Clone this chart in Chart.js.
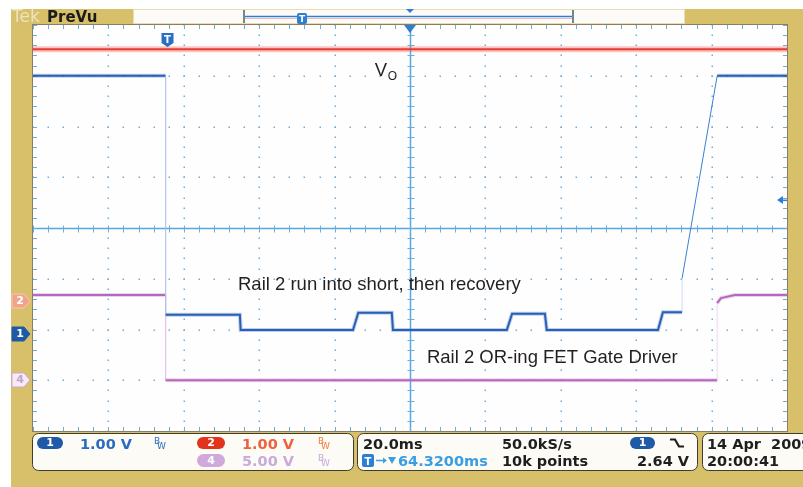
<!DOCTYPE html>
<html>
<head>
<meta charset="utf-8">
<script src="https://cdn.jsdelivr.net/npm/chart.js@4.4.1/dist/chart.umd.min.js"></script>
<style>
  html, body { margin: 0; padding: 0; background: #fff; }
  canvas { display: block; }
</style>
</head>
<body>
<canvas id="scope" width="803" height="487"></canvas>
<script>
// Tek scope capture: Rail 2 short + recovery
// horizontal: 20 ms/div, 10 div, centre at 64.32 ms after trigger
const timeMin = -35.68, timeMax = 164.32, msPerDiv = 20, timeCentre = 64.32;

// CH2 - Vo (1 V/div)
const ch2Time  = [-35.68, 164.32];
const ch2Volts = [4.96, 4.96];

// CH1 - Rail 2 (1 V/div)
const ch1Time  = [-35.68, -0.5, -0.5, 19.2, 19.4, 49.2, 50.6, 59.5, 59.8, 90.0, 91.4, 100.1, 100.6, 130.1, 131.4, 136.5, 136.5, 145.8, 164.32];
const ch1Volts = [5.09, 5.09, 0.38, 0.38, 0.08, 0.08, 0.42, 0.42, 0.08, 0.08, 0.40, 0.40, 0.08, 0.08, 0.43, 0.43, 1.10, 5.09, 5.09];

// CH4 - OR-ing FET gate driver (5 V/div)
const ch4Time  = [-35.68, -0.5, -0.5, 145.8, 145.8, 146.8, 150.5, 164.32];
const ch4Volts = [8.4, 8.4, 0.0, 0.0, 7.6, 8.1, 8.4, 8.4];

// channel settings: volts per div, ground marker (div)
const chScale  = { ch1: 1, ch2: 1, ch4: 5 };
const chOffset = { ch1: -2.09, ch2: -1.44, ch4: -3.0 };
const trigLevel = 2.64; // on ch1

function toPoints(times, volts, ch) {
    return times.map((t, i) => ({ x: t, y: volts[i] / chScale[ch] + chOffset[ch] }));
}

const GOLD = '#d8c06a';
const GRID = '#6aaee0';

// fast edges are drawn faint on the scope
const isVertical = ctx => ctx.p0.parsed.x === ctx.p1.parsed.x;
const isFastRamp = ctx => !isVertical(ctx) && Math.abs(ctx.p1.y - ctx.p0.y) > 100;

function roundRect(c, x, y, w, h, r) {
    c.beginPath();
    c.moveTo(x + r, y);
    c.arcTo(x + w, y, x + w, y + h, r);
    c.arcTo(x + w, y + h, x, y + h, r);
    c.arcTo(x, y + h, x, y, r);
    c.arcTo(x, y, x + w, y, r);
    c.closePath();
}

function pill(c, x, y, w, h, fill, label) {
    roundRect(c, x, y, w, h, h / 2);
    c.fillStyle = fill; c.fill();
    c.fillStyle = '#fff';
    c.font = 'bold 11px "DejaVu Sans"';
    c.textAlign = 'center'; c.textBaseline = 'middle';
    c.fillText(label, x + w / 2, y + h / 2 + 0.5);
    c.textAlign = 'left'; c.textBaseline = 'alphabetic';
}

function bw(c, x, y, col) {
    c.fillStyle = col;
    c.font = '9px "DejaVu Sans"';
    c.fillText('B', x, y - 3);
    c.fillText('W', x + 3, y + 2);
}

// background, top bar, plot face
const scopeFace = {
    id: 'scopeFace',
    beforeDraw(chart) {
        const c = chart.ctx, a = chart.chartArea;
        c.save();
        c.fillStyle = '#fff';
        c.fillRect(0, 0, chart.width, chart.height);
        c.fillStyle = GOLD;
        c.fillRect(11, 9, chart.width - 11, chart.height - 9);
        // record view strip
        c.fillStyle = '#fcfbf7';
        c.fillRect(133, 9, 552, 15);
        c.strokeStyle = '#e8dcb0'; c.lineWidth = 1;
        c.strokeRect(133.5, 9.5, 551, 14);
        c.strokeStyle = '#2f7fd0'; c.lineWidth = 1.5;
        c.beginPath(); c.moveTo(245, 16.5); c.lineTo(573, 16.5); c.stroke();
        c.strokeStyle = '#f2b8b8'; c.lineWidth = 1;
        c.beginPath(); c.moveTo(245, 18.5); c.lineTo(573, 18.5); c.stroke();
        c.fillStyle = '#6f8a8a';
        c.fillRect(243, 10, 2, 13); c.fillRect(572, 10, 2, 13);
        // T on record view
        c.fillStyle = '#2f7fd0';
        roundRect(c, 297, 13, 10, 11, 2); c.fill();
        c.fillStyle = '#fff'; c.font = 'bold 9px "DejaVu Sans"';
        c.textAlign = 'center'; c.fillText('T', 302, 22);
        c.fillStyle = '#2f7fd0';
        c.beginPath(); c.moveTo(406, 9); c.lineTo(414, 9); c.lineTo(410, 13); c.fill();
        c.textAlign = 'left';
        c.font = '17px "DejaVu Sans"';
        c.fillStyle = 'rgba(255,255,255,0.55)';
        c.fillText('Tek', 12, 22);
        c.fillStyle = '#1a1a1a';
        c.font = 'bold 15px "DejaVu Sans"';
        c.fillText('PreVu', 47, 22);
        // plot face
        c.fillStyle = '#fffefe';
        c.fillRect(a.left, a.top, a.right - a.left, a.bottom - a.top);
        c.restore();
    },
    beforeDatasetsDraw(chart) {
        const c = chart.ctx, a = chart.chartArea;
        const xs = chart.scales.x, ys = chart.scales.y;
        const divX = k => xs.getPixelForValue(timeMin + k * msPerDiv);
        const divY = k => ys.getPixelForValue(k);
        c.save();
        c.fillStyle = GRID;
        // dotted graticule
        for (let j = -3; j <= 3; j++) {
            if (j === 0) continue;
            const y = Math.round(divY(j));
            for (let m = 0; m <= 50; m++) c.fillRect(Math.round(divX(m / 5)) - 0.5, y - 0.5, 1.5, 1.5);
        }
        for (let k = 1; k <= 9; k++) {
            if (k === 5) continue;
            const x = Math.round(divX(k));
            for (let m = 0; m <= 40; m++) c.fillRect(x - 0.5, Math.round(divY(-4 + m / 5)) - 0.5, 1.5, 1.5);
        }
        // centre cross with minor ticks
        const cx = Math.round(xs.getPixelForValue(timeCentre)) + 0.5;
        const cy = Math.round(divY(0)) + 0.5;
        c.strokeStyle = '#58a6e0'; c.lineWidth = 1.5;
        c.beginPath();
        c.moveTo(a.left, cy); c.lineTo(a.right, cy);
        c.moveTo(cx, a.top); c.lineTo(cx, a.bottom);
        c.stroke();
        c.lineWidth = 1; c.strokeStyle = GRID;
        c.beginPath();
        for (let m = 0; m <= 50; m++) {
            const x = Math.round(divX(m / 5)) + 0.5;
            c.moveTo(x, cy - 3); c.lineTo(x, cy + 4);
            c.moveTo(x, a.top); c.lineTo(x, a.top + 4);
            c.moveTo(x, a.bottom); c.lineTo(x, a.bottom - 4);
        }
        for (let m = 0; m <= 40; m++) {
            const y = Math.round(divY(-4 + m / 5)) + 0.5;
            c.moveTo(cx - 3, y); c.lineTo(cx + 4, y);
            c.moveTo(a.left, y); c.lineTo(a.left + 4, y);
            c.moveTo(a.right, y); c.lineTo(a.right - 4, y);
        }
        c.stroke();
        c.restore();
    },
    afterDatasetsDraw(chart) {
        const c = chart.ctx, a = chart.chartArea;
        const xs = chart.scales.x, ys = chart.scales.y;
        c.save();
        // frame
        c.strokeStyle = '#8b7d62'; c.lineWidth = 1;
        c.strokeRect(a.left - 0.5, a.top - 0.5, a.right - a.left + 1, a.bottom - a.top + 1);

        // trigger position (T) and centre marker
        const tx = xs.getPixelForValue(0);
        c.fillStyle = '#2b6fc4';
        c.beginPath();
        c.moveTo(tx - 6, 33); c.lineTo(tx + 6, 33); c.lineTo(tx + 6, 43);
        c.lineTo(tx, 47); c.lineTo(tx - 6, 43); c.closePath(); c.fill();
        c.fillStyle = '#fff'; c.font = 'bold 10px "DejaVu Sans"';
        c.textAlign = 'center'; c.fillText('T', tx, 43);
        const cx = xs.getPixelForValue(timeCentre);
        c.fillStyle = '#2f7fd0';
        c.beginPath(); c.moveTo(cx - 6, a.top); c.lineTo(cx + 6, a.top); c.lineTo(cx, a.top + 8); c.fill();

        // trigger level arrow
        const ty = ys.getPixelForValue(trigLevel / chScale.ch1 + chOffset.ch1);
        c.beginPath(); c.moveTo(a.right - 10, ty); c.lineTo(a.right - 4, ty - 4); c.lineTo(a.right - 4, ty + 4); c.fill();
        c.fillRect(a.right - 5, ty - 0.5, 5, 1.5);

        // channel ground markers
        const marker = (ch, fill, stroke, txtCol, label) => {
            const y = Math.round(ys.getPixelForValue(chOffset[ch]));
            c.beginPath();
            c.moveTo(12, y - 7); c.lineTo(24, y - 7); c.lineTo(30, y);
            c.lineTo(24, y + 7); c.lineTo(12, y + 7); c.closePath();
            c.fillStyle = fill; c.fill();
            c.strokeStyle = stroke; c.lineWidth = 1; c.stroke();
            c.fillStyle = txtCol; c.font = 'bold 11px "DejaVu Sans"';
            c.textAlign = 'center'; c.textBaseline = 'middle';
            c.fillText(label, 20, y + 0.5);
            c.textBaseline = 'alphabetic';
        };
        marker('ch2', '#f2a48a', '#f7c7b4', '#fff', '2');
        marker('ch1', '#1c5aa8', '#1c5aa8', '#fff', '1');
        marker('ch4', '#f6ecf6', '#cda6d6', '#c7a0d2', '4');

        // annotations
        c.textAlign = 'left';
        c.fillStyle = '#231f20';
        const af = '18.5px "Liberation Sans", Arial, sans-serif';
        c.font = af;
        const vx = xs.getPixelForValue(55.0), vy = ys.getPixelForValue(2.99);
        c.fillText('V', vx, vy);
        c.font = '12px "Liberation Sans", Arial, sans-serif';
        c.fillText('O', vx + 13, vy + 4);
        c.font = af;
        c.fillText('Rail 2 run into short, then recovery', xs.getPixelForValue(18.7), ys.getPixelForValue(-1.22));
        c.fillText('Rail 2 OR-ing FET Gate Driver', xs.getPixelForValue(68.8), ys.getPixelForValue(-2.66));

        // readout panels
        c.strokeStyle = '#3e3b30'; c.lineWidth = 1;
        c.fillStyle = '#fdfbf6';
        roundRect(c, 32.5, 433.5, 321, 37, 6); c.fill(); c.stroke();
        c.fillStyle = '#fdfbf6';
        roundRect(c, 357.5, 433.5, 340, 37, 6); c.fill(); c.stroke();
        c.fillStyle = '#fdfbf6';
        roundRect(c, 702.5, 433.5, 120, 37, 6); c.fill(); c.stroke();

        const f = 'bold 14.5px "DejaVu Sans"';
        pill(c, 37, 437, 26, 12, '#1f5aa6', '1');
        c.font = f; c.fillStyle = '#2a6cc0'; c.fillText('1.00 V', 80, 449);
        bw(c, 154, 447, '#2a6cc0');
        pill(c, 197, 437, 28, 12, '#e2331d', '2');
        c.font = f; c.fillStyle = '#f0603e'; c.fillText('1.00 V', 242, 449);
        bw(c, 318, 447, '#f07a3a');
        pill(c, 197, 454, 28, 13, '#cfa8dc', '4');
        c.font = f; c.fillStyle = '#c8aadc'; c.fillText('5.00 V', 242, 466);
        bw(c, 318, 464, '#c8aadc');

        c.font = f; c.fillStyle = '#1e1e1e';
        c.fillText('20.0ms', 363, 449);
        c.fillText('50.0kS/s', 502, 449);
        c.fillText('10k points', 502, 466);
        c.textAlign = 'right'; c.fillText('2.64 V', 689, 466); c.textAlign = 'left';
        pill(c, 630, 437, 25, 12, '#1f5aa6', '1');
        c.strokeStyle = '#1e1e1e'; c.lineWidth = 2.2;
        c.beginPath(); c.moveTo(670, 439.5); c.lineTo(675, 439.5); c.lineTo(679, 446.5); c.lineTo(684, 446.5); c.stroke();
        // delay readout
        c.fillStyle = '#2f7fd0';
        roundRect(c, 362, 454, 12, 13, 2); c.fill();
        c.fillStyle = '#fff'; c.font = 'bold 10px "DejaVu Sans"'; c.textAlign = 'center';
        c.fillText('T', 368, 464.5); c.textAlign = 'left';
        c.strokeStyle = '#3a9ee0'; c.lineWidth = 1.5;
        c.beginPath(); c.moveTo(376, 460.5); c.lineTo(384, 460.5); c.stroke();
        c.fillStyle = '#3a9ee0';
        c.beginPath(); c.moveTo(383, 457.5); c.lineTo(387, 460.5); c.lineTo(383, 463.5); c.fill();
        c.beginPath(); c.moveTo(388, 457); c.lineTo(396, 457); c.lineTo(392, 464); c.fill();
        c.font = f; c.fillText('64.3200ms', 398, 466);

        c.fillStyle = '#1e1e1e';
        c.fillText('14 Apr  2009', 707, 449);
        c.fillText('20:00:41', 707, 466);
        c.restore();
    }
};

new Chart(document.getElementById('scope'), {
    type: 'line',
    data: {
        datasets: [
            { label: 'CH1', data: toPoints(ch1Time, ch1Volts, 'ch1'), borderColor: '#2a5fb4', borderWidth: 2,
              segment: {
                  borderColor: ctx => isVertical(ctx) ? 'rgba(170,190,235,0.55)' : isFastRamp(ctx) ? '#3a80d4' : undefined,
                  borderWidth: ctx => isVertical(ctx) || isFastRamp(ctx) ? 1 : undefined
              } },
            { label: 'CH1 band', data: toPoints(ch1Time, ch1Volts, 'ch1'), borderColor: 'rgba(70,120,205,0.35)', borderWidth: 4,
              segment: { borderColor: ctx => isVertical(ctx) || isFastRamp(ctx) ? 'rgba(0,0,0,0)' : undefined } },
            { label: 'CH4', data: toPoints(ch4Time, ch4Volts, 'ch4'), borderColor: '#b36abb', borderWidth: 2,
              segment: {
                  borderColor: ctx => isVertical(ctx) ? 'rgba(225,190,230,0.6)' : undefined,
                  borderWidth: ctx => isVertical(ctx) ? 1 : undefined
              } },
            { label: 'CH4 band', data: toPoints(ch4Time, ch4Volts, 'ch4'), borderColor: 'rgba(200,130,210,0.35)', borderWidth: 4,
              segment: { borderColor: ctx => isVertical(ctx) ? 'rgba(0,0,0,0)' : undefined } },
            { label: 'CH2', data: toPoints(ch2Time, ch2Volts, 'ch2'), borderColor: 'rgba(228,45,35,0.9)', borderWidth: 2 },
            { label: 'CH2 band', data: toPoints(ch2Time, ch2Volts, 'ch2'), borderColor: 'rgba(240,110,100,0.4)', borderWidth: 6 }
        ]
    },
    options: {
        responsive: false,
        animation: false,
        events: [],
        layout: { padding: { left: 33, right: 16, top: 25, bottom: 56 } },
        elements: { point: { radius: 0 }, line: { tension: 0 } },
        plugins: { legend: { display: false }, tooltip: { enabled: false } },
        scales: {
            x: { type: 'linear', min: timeMin, max: timeMax, display: false },
            y: { type: 'linear', min: -4, max: 4, display: false }
        }
    },
    plugins: [scopeFace]
});
</script>
</body>
</html>
